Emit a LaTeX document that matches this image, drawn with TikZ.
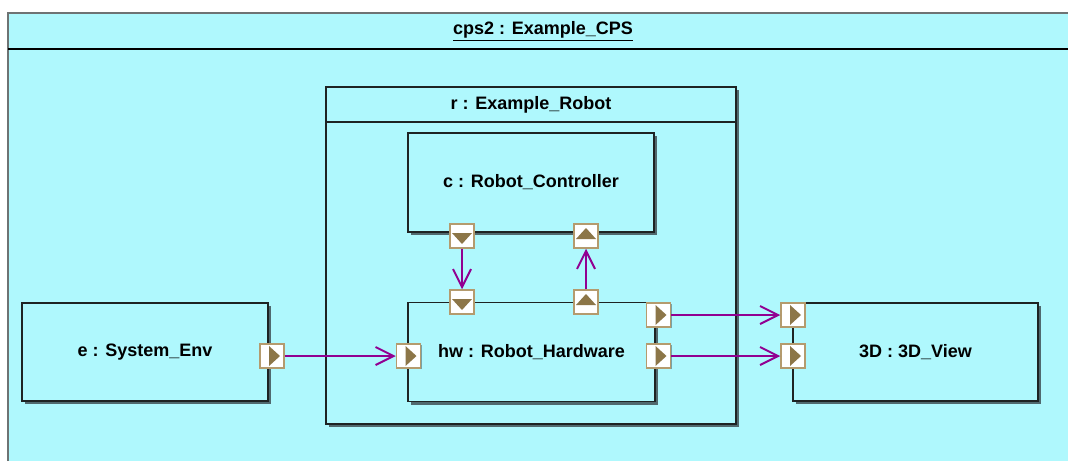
\documentclass[tikz,border=0pt]{standalone}
\usepackage{fontspec}
\setmainfont{Liberation Sans}
\usetikzlibrary{positioning,arrows.meta,calc,shadows}
\definecolor{partfill}{RGB}{175,248,253}
\definecolor{partline}{RGB}{30,35,35}
\definecolor{partshadow}{RGB}{80,105,110}
\definecolor{frameline}{RGB}{110,115,115}
\definecolor{portline}{RGB}{180,155,110}
\definecolor{porttri}{RGB}{140,118,72}
\definecolor{flowc}{RGB}{145,0,145}

\begin{document}
\begin{tikzpicture}[
x=1pt,y=-1pt,
font=\fontsize{18}{21}\selectfont\bfseries,
part/.style={rectangle,draw=partline,fill=partfill,line width=1.5pt,inner sep=0pt,
  drop shadow={shadow xshift=3pt,shadow yshift=-3pt,fill=partshadow,opacity=1}},
port/.style={rectangle,draw=portline,fill=white,line width=1.5pt,minimum size=24pt,inner sep=0pt,
  drop shadow={shadow xshift=1pt,shadow yshift=-1pt,fill=partshadow,opacity=0.6}},
portR/.style={port,path picture={\fill[porttri] ($(path picture bounding box.center)+(-3pt,10pt)$)
  -- ++(11pt,-10pt) -- ++(-11pt,-10pt) -- cycle;}},
portD/.style={port,path picture={\fill[porttri] ($(path picture bounding box.center)+(-10pt,3pt)$)
  -- ++(20pt,0pt) -- ++(-10pt,-11pt) -- cycle;}},
portU/.style={port,path picture={\fill[porttri] ($(path picture bounding box.center)+(-10pt,-3pt)$)
  -- ++(20pt,0pt) -- ++(-10pt,11pt) -- cycle;}},
flow/.style={draw=flowc,line width=2pt,-{Straight Barb[length=18pt,width=18pt]}}
]
\useasboundingbox (0,0) rectangle (1068,461);

\fill[partfill] (8,13) rectangle (1068,461);
\draw[frameline,line width=2pt] (8,461) |- (1068,13);
\draw[black,line width=2.2pt] (8,49) -- (1068,49);
\node (cpsTitle) at (543,31) {\underline{cps2 : Example\_CPS}};

\node[part,minimum width=410,minimum height=337] (r) at (531,255.5) {};
\draw[partline,line width=2pt] ([yshift=-36pt]r.north west) -- ([yshift=-36pt]r.north east);
\node (rTitle) at (531,105) {r : Example\_Robot};

\node[part,minimum width=246,minimum height=99] (c) at (531,182.5) {c : Robot\_Controller};
\node[part,minimum width=247,minimum height=99] (hw) at (531.5,352) {hw : Robot\_Hardware};
\node[part,minimum width=246,minimum height=98] (e) at (145,352) {e : System\_Env};
\node[part,minimum width=245,minimum height=98] (view) at (915.5,352) {3D : 3D\_View};

\node[portR] (eOut) at (272,356) {};
\node[portR] (hwIn) at (408.5,356) {};
\node[portD] (cOut) at (462,236) {};
\node[portU] (cIn) at (586,236) {};
\node[portD] (hwCtl) at (462,302) {};
\node[portU] (hwSns) at (586,302) {};
\node[portR] (hwOutA) at (658.5,315) {};
\node[portR] (hwOutB) at (658.5,356) {};
\node[portR] (viewInA) at (793,315) {};
\node[portR] (viewInB) at (793,356) {};

\draw[flow] (eOut) -- (hwIn);
\draw[flow] (cOut) -- (hwCtl);
\draw[flow] (hwSns) -- (cIn);
\draw[flow] (hwOutA) -- (viewInA);
\draw[flow] (hwOutB) -- (viewInB);
\end{tikzpicture}
\end{document}
